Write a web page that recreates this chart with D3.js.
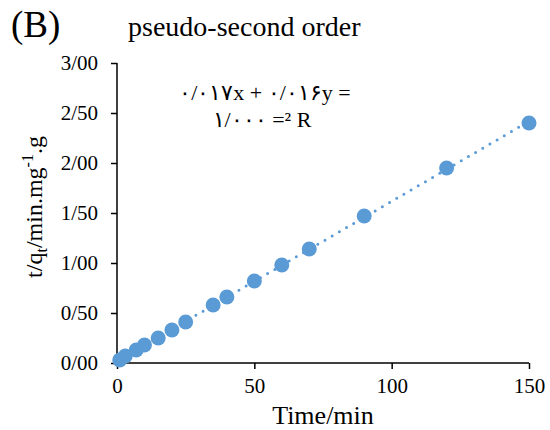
<!DOCTYPE html>
<html><head><meta charset="utf-8">
<script src="https://cdn.jsdelivr.net/npm/d3@7"></script>
<style>
body{margin:0;background:#fff}
svg text{font-family:"Liberation Serif","Times New Roman",serif !important;fill:#000}
</style>
</head><body><svg id="c" width="550" height="430"></svg>
<script>
const times = [1, 3, 7, 10, 15, 20, 25, 35, 40, 50, 60, 70, 90, 120, 150];
const tq = [0.03, 0.07, 0.13, 0.18, 0.25, 0.33, 0.41, 0.58, 0.66, 0.82, 0.98, 1.14, 1.47, 1.95, 2.40];
const xTicks = [0, 50, 100, 150];
const yTicks = [0, 0.5, 1, 1.5, 2, 2.5, 3];
const yTickLabels = ["0/00", "0/50", "1/00", "1/50", "2/00", "2/50", "3/00"];
const fitSlope = 0.016, fitIntercept = 0.017;
const eqLine1 = "\u0660/\u0660\u0661\u0667x + \u0660/\u0660\u0661\u06F6y =";
const eqLine2 = "\u0661/\u0660\u0660\u0660 =\u00B2 R";

const svg = d3.select("#c");
const x = d3.scaleLinear().domain([0, 150]).range([117, 529]);
const y = d3.scaleLinear().domain([0, 3]).range([363, 63]);
const blue = "#5b9bd5";

// axes
const xAxis = svg.append("g").attr("transform", `translate(0,${y(0)})`)
  .call(d3.axisBottom(x).tickValues(xTicks).tickSize(6).tickPadding(9).tickFormat(d3.format("d")));
const yAxis = svg.append("g").attr("transform", `translate(${x(0)},0)`)
  .call(d3.axisLeft(y).tickValues(yTicks).tickSize(6).tickPadding(13).tickFormat((d, i) => yTickLabels[i]));
[xAxis, yAxis].forEach(g => {
  g.attr("font-family", null).attr("font-size", null);
  g.select(".domain").attr("stroke", "#000").attr("stroke-width", 1.5);
  g.selectAll(".tick line").attr("stroke", "#000").attr("stroke-width", 1.5);
  g.selectAll("text").style("font-size", "21px").attr("fill", "#000");
});
xAxis.select(".domain").attr("d", `M${x(0)},0H${x(150)}`);
yAxis.select(".domain").attr("d", `M0,${y(3)}V${y(0)}`);

// trendline
svg.append("line")
  .attr("x1", x(0)).attr("y1", y(fitIntercept))
  .attr("x2", x(150)).attr("y2", y(fitIntercept + fitSlope * 150))
  .attr("stroke", blue).attr("stroke-width", 3).attr("stroke-linecap", "round")
  .attr("stroke-dasharray", "0,8.3");

// points
svg.append("g").selectAll("circle").data(times).join("circle")
  .attr("cx", d => x(d)).attr("cy", (d, i) => y(tq[i])).attr("r", 7.5)
  .attr("fill", blue);

// titles
svg.append("text").attr("x", 11).attr("y", 37).style("font-size", "37px").text("(B)");
svg.append("text").attr("x", 128).attr("y", 36).style("font-size", "28px").text("pseudo-second order");
svg.append("text").attr("x", 323).attr("y", 424).attr("text-anchor", "middle").style("font-size", "26px").text("Time/min");

const yt = svg.append("text").attr("transform", `translate(42,207) rotate(-90)`).attr("text-anchor", "middle").style("font-size", "24px");
yt.append("tspan").text("t/q");
yt.append("tspan").style("font-size", "16px").attr("dy", 5).text("t");
yt.append("tspan").attr("dy", -5).text("/min.mg");
yt.append("tspan").style("font-size", "16px").attr("dy", -9).text("-1");
yt.append("tspan").attr("dy", 9).text(".g");

// equation
[eqLine1, eqLine2].forEach((s, i) => {
  svg.append("text").attr("x", i === 0 ? 265 : 262).attr("y", 100 + i * 27)
    .attr("text-anchor", "middle").style("font-size", "22px")
    .style("direction", "ltr").style("unicode-bidi", "bidi-override")
    .text(s);
});
</script>
</body></html>
